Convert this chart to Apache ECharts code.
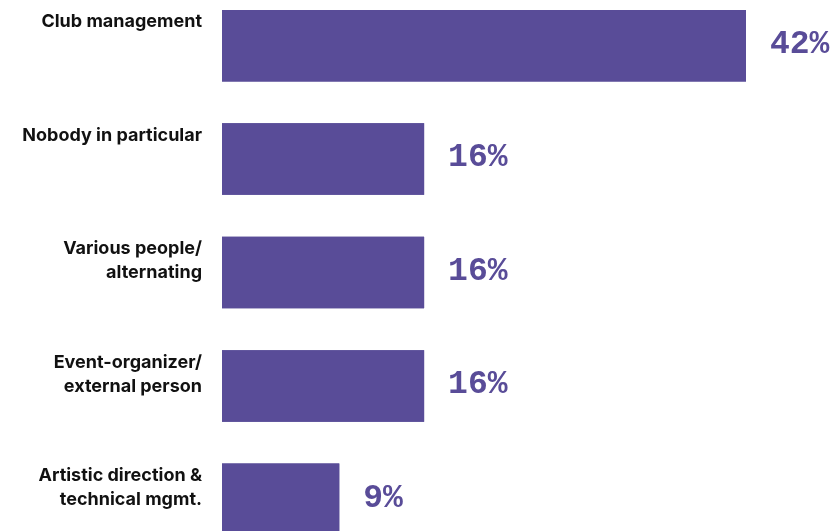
<!DOCTYPE html>
<html>
<head>
<meta charset="utf-8">
<script src="https://cdn.jsdelivr.net/npm/echarts@6/dist/echarts.min.js"></script>
<style>
  html, body { margin: 0; padding: 0; background: #fff; overflow: hidden; }
  /* chart is cropped at top and bottom like the original */
  #main { width: 840px; height: 567px; margin-top: -11px; }
</style>
</head>
<body>
<div id="main"></div>
<script>
    // categories, top to bottom
    var categories = [
        'Club management',
        'Nobody in particular',
        'Various people/\nalternating',
        'Event-organizer/\nexternal person',
        'Artistic direction &\ntechnical mgmt.'
    ];
    // share in percent (bar lengths)
    var values = [42, 16.2, 16.2, 16.2, 9.4];

    var purple = '#594c98';

    var myChart = echarts.init(document.getElementById('main'));

    var option = {
        animation: false,
        grid: {
            left: 222,
            right: 94,
            top: 0,
            bottom: 0
        },
        xAxis: {
            type: 'value',
            min: 0,
            max: 42,
            show: false
        },
        yAxis: {
            type: 'category',
            inverse: true,
            data: categories,
            show: false
        },
        series: [
            {
                // bars + category names on the left
                name: 'names',
                type: 'bar',
                data: values,
                barWidth: 71.5,
                itemStyle: { color: purple },
                label: {
                    show: true,
                    position: [-20, 0],
                    align: 'right',
                    verticalAlign: 'top',
                    formatter: '{b}',
                    fontFamily: 'Inter',
                    fontWeight: 'bold',
                    fontSize: 18,
                    lineHeight: 24,
                    color: '#111'
                }
            },
            {
                // same bars, value labels on the right
                name: 'values',
                type: 'bar',
                data: values,
                barWidth: 71.5,
                barGap: '-100%',
                itemStyle: { color: purple },
                label: {
                    show: true,
                    position: 'right',
                    distance: 24,
                    offset: [0, -1],
                    formatter: function (p) {
                        return Math.round(p.value) + '%';
                    },
                    fontFamily: 'Liberation Mono',
                    fontWeight: 'bold',
                    fontSize: 33,
                    color: purple
                }
            }
        ]
    };

    myChart.setOption(option);
</script>
</body>
</html>
